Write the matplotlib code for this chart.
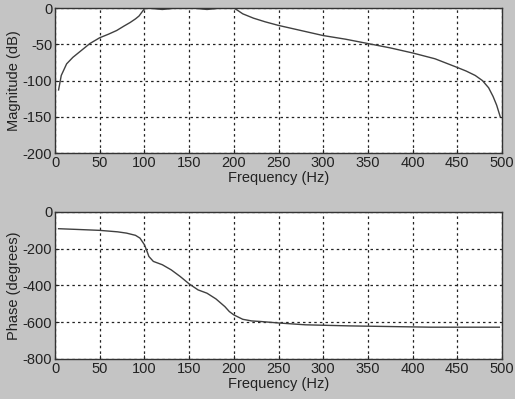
import matplotlib
matplotlib.use("Agg")
import matplotlib.pyplot as plt

plt.rcParams['font.family'] = ['Liberation Sans', 'DejaVu Sans']
plt.rcParams['axes.unicode_minus'] = False

# Magnitude response (dB)
mag_freq = [4, 7, 13, 20, 30, 39, 50, 60, 69, 77, 84, 90, 94, 97, 100, 105, 112, 120, 128, 135,
            145, 155, 162, 170, 178, 185, 192, 200, 204, 210, 216, 222, 235, 250, 275, 300,
            325, 350, 375, 400, 425, 450, 460, 470, 478, 485, 490, 494, 497, 498]
mag_db = [-113, -93, -77, -68, -58, -49, -41, -36, -31, -25, -20, -15, -11, -6, -1, 0, -1, -2, -1, 0,
          0, 0, -1, -2, -1, 0, 0, 0, -3, -8, -11, -14, -19, -24, -31, -38, -43, -49, -55,
          -62, -70, -82, -87, -93, -100, -110, -122, -134, -146, -150]

# Phase response (degrees)
ph_freq = [4, 25, 50, 70, 80, 90, 95, 100, 103, 105, 110, 120, 130, 140, 150, 160,
           170, 180, 190, 195, 200, 210, 220, 230, 250, 280, 330, 420, 497]
ph_deg = [-91, -95, -100, -108, -115, -127, -142, -178, -215, -242, -269, -287, -315,
          -351, -391, -424, -442, -473, -515, -542, -560, -584, -593, -596, -604, -614,
          -620, -627, -627]

x_ticks = [0, 50, 100, 150, 200, 250, 300, 350, 400, 450, 500]
mag_ticks = [0, -50, -100, -150, -200]
ph_ticks = [0, -200, -400, -600, -800]

bg = '#c4c4c4'
line_c = '#404040'

fig = plt.figure(figsize=(5.15, 3.99), dpi=100, facecolor=bg)
ax1 = fig.add_axes([0.1068, 0.6165, 0.868, 0.3634])
ax2 = fig.add_axes([0.1068, 0.1003, 0.868, 0.3684])

def style(ax, yticks, ylabel):
    ax.set_facecolor('white')
    ax.set_xlim(0, 500)
    ax.set_xticks(x_ticks)
    ax.set_yticks(yticks)
    ax.set_ylim(min(yticks), max(yticks))
    ax.grid(True, color='#222222', linestyle=(0, (2, 2.5)), linewidth=0.9)
    for s in ax.spines.values():
        s.set_color('#333333')
        s.set_linewidth(1.0)
    ax.tick_params(direction='in', length=3, labelsize=10.5, colors='#222222', pad=2)
    ax.set_xlabel('Frequency (Hz)', fontsize=10.5, color='#222222', labelpad=1)
    ax.set_ylabel(ylabel, fontsize=10.5, color='#222222', labelpad=1)

ax1.plot(mag_freq, mag_db, color=line_c, linewidth=1.0)
style(ax1, mag_ticks, 'Magnitude (dB)')

ax2.plot(ph_freq, ph_deg, color=line_c, linewidth=1.0)
style(ax2, ph_ticks, 'Phase (degrees)')

fig.savefig('out.png', dpi=100, facecolor=bg)
